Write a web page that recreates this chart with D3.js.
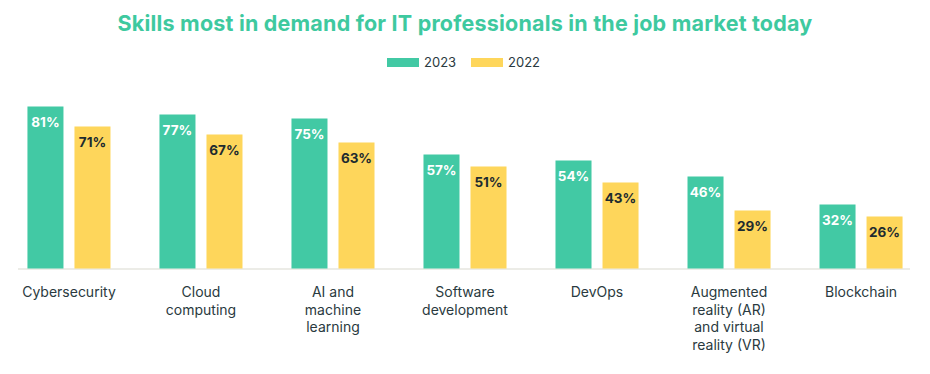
<!DOCTYPE html>
<html>
<head>
<meta charset="utf-8">
<script src="https://cdn.jsdelivr.net/npm/d3@7"></script>
<style>
  body { margin: 0; background: #fff; }
  svg { display: block; font-family: Inter, "Noto Sans", sans-serif; }
</style>
</head>
<body>
<svg id="chart" width="930" height="374"></svg>
<script>
const categories = [
  "Cybersecurity",
  "Cloud\ncomputing",
  "AI and\nmachine\nlearning",
  "Software\ndevelopment",
  "DevOps",
  "Augmented\nreality (AR)\nand virtual\nreality (VR)",
  "Blockchain"
];
const seriesNames = ["2023", "2022"];
const values2023 = [81, 77, 75, 57, 54, 46, 32];
const values2022 = [71, 67, 63, 51, 43, 29, 26];
const title = "Skills most in demand for IT professionals in the job market today";

const colors = { "2023": "#42c9a4", "2022": "#fed65b" };
const labelColors = { "2023": "#ffffff", "2022": "#1d2b2f" };

const data = categories.map((c, i) => ({ cat: c, vals: { "2023": values2023[i], "2022": values2022[i] } }));

const svg = d3.select("#chart");
const baseY = 268.5;

const x0 = d3.scaleBand().domain(categories).range([19, 911]).paddingInner(0.371).paddingOuter(0.064);
const x1 = d3.scaleBand().domain(seriesNames).range([0, x0.bandwidth()]).paddingInner(0.234).paddingOuter(0);
const y = d3.scaleLinear().domain([0, 100]).range([baseY, baseY - 200]);

// Title
svg.append("text")
  .attr("x", 465).attr("y", 31)
  .attr("text-anchor", "middle")
  .attr("fill", "#3ec99f")
  .attr("font-size", 21.5).attr("font-weight", 700)
  .attr("letter-spacing", 0.2)
  .text(title);

// Legend
const legend = svg.append("g");
const legendItems = [{ k: "2023", x: 387 }, { k: "2022", x: 471 }];
legendItems.forEach(it => {
  legend.append("rect").attr("x", it.x).attr("y", 58).attr("width", 32).attr("height", 9).attr("fill", colors[it.k]);
  legend.append("text").attr("x", it.x + 37).attr("y", 67).attr("font-size", 13).attr("fill", "#2a3a40").text(it.k);
});

// Baseline
svg.append("line")
  .attr("x1", 18).attr("x2", 910).attr("y1", baseY + 0.5).attr("y2", baseY + 0.5)
  .attr("stroke", "#e6e6df").attr("stroke-width", 1.5);

// Bars
const groups = svg.append("g").selectAll("g").data(data).join("g")
  .attr("transform", d => `translate(${x0(d.cat)},0)`);

groups.selectAll("rect").data(d => seriesNames.map(k => ({ k, v: d.vals[k] }))).join("rect")
  .attr("x", d => x1(d.k))
  .attr("y", d => y(d.v))
  .attr("width", x1.bandwidth())
  .attr("height", d => y(0) - y(d.v))
  .attr("fill", d => colors[d.k]);

groups.selectAll("text.val").data(d => seriesNames.map(k => ({ k, v: d.vals[k] }))).join("text")
  .attr("class", "val")
  .attr("x", d => x1(d.k) + x1.bandwidth() / 2)
  .attr("y", d => y(d.v) + 20)
  .attr("text-anchor", "middle")
  .attr("font-size", 13.5).attr("font-weight", 700)
  .attr("fill", d => labelColors[d.k])
  .text(d => d.v + "%");

// Category axis labels
const xAxis = svg.append("g");
categories.forEach(c => {
  const t = xAxis.append("text")
    .attr("x", x0(c) + x0.bandwidth() / 2)
    .attr("y", 297)
    .attr("text-anchor", "middle")
    .attr("font-size", 14).attr("fill", "#2a3a40");
  c.split("\n").forEach((line, i) => {
    t.append("tspan").attr("x", x0(c) + x0.bandwidth() / 2).attr("dy", i === 0 ? 0 : 17.6).text(line);
  });
});
</script>
</body>
</html>
